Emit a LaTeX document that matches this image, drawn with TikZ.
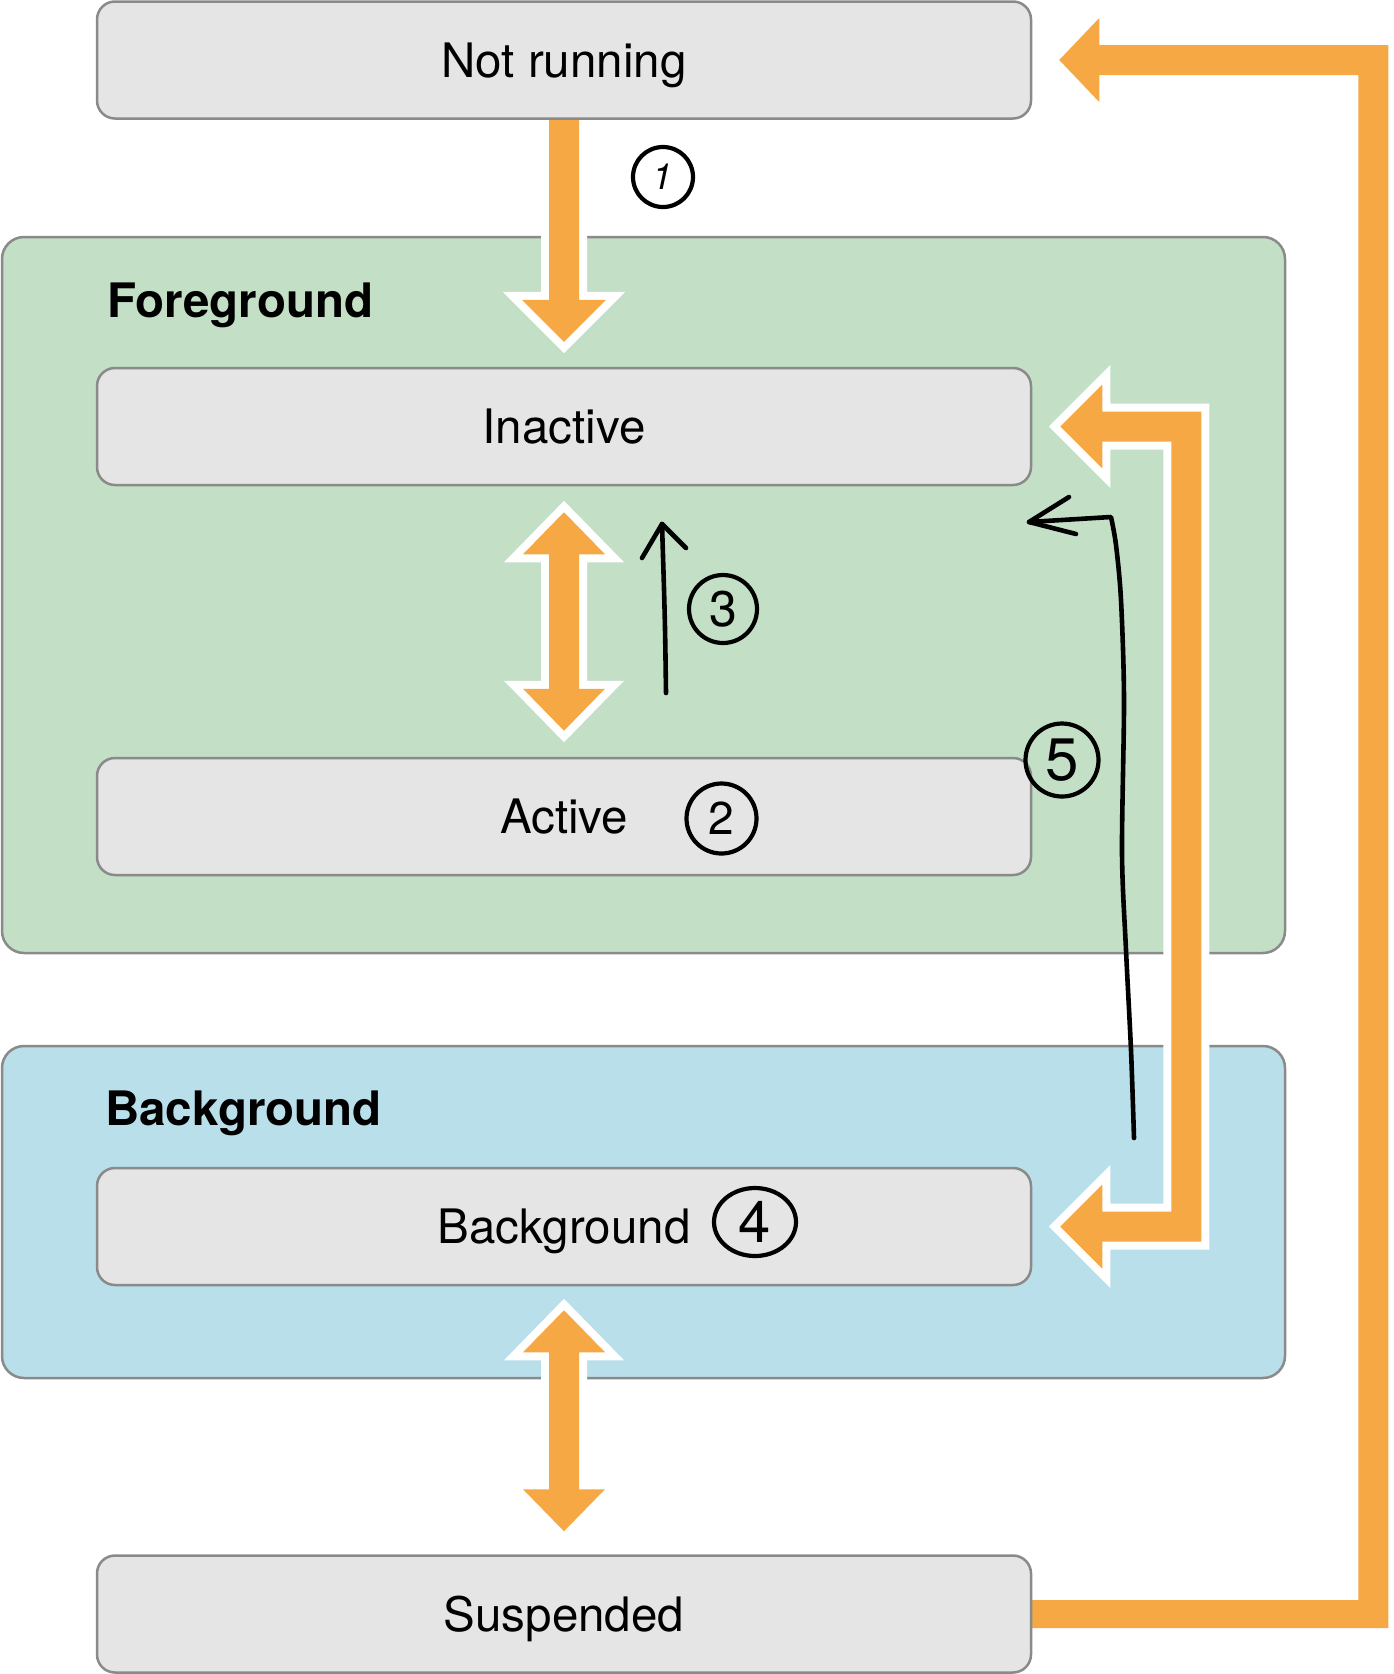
\documentclass[tikz,border=0pt]{standalone}
\usepackage{fontspec}
\setmainfont{TeX Gyre Heros}
\usetikzlibrary{calc,shapes.geometric}
\definecolor{orng}{RGB}{246,168,68}
\definecolor{fgfill}{RGB}{195,224,199}
\definecolor{bgfill}{RGB}{185,223,234}
\definecolor{boxg}{RGB}{229,229,229}
\definecolor{edgeg}{RGB}{138,138,138}
\pgfdeclarelayer{back}
\pgfdeclarelayer{mid}
\pgfsetlayers{back,mid,main}
\newcommand\dblarrow[2]{%
  \path[blockarrow] let \p1=(#1), \p2=(#2) in
    (\x1,\y1) -- (\x1+41pt,\y1-42pt) -- (\x1+15pt,\y1-42pt) -- (\x1+15pt,\y2+42pt)
    -- (\x1+41pt,\y2+42pt) -- (\x2,\y2) -- (\x1-41pt,\y2+42pt) -- (\x1-15pt,\y2+42pt)
    -- (\x1-15pt,\y1-42pt) -- (\x1-41pt,\y1-42pt) -- cycle;}
\begin{document}
\begin{tikzpicture}[x=1pt,y=-1pt,
  state/.style={draw=edgeg, line width=2.5pt, fill=boxg, rounded corners=18pt,
    minimum width=934pt, minimum height=117pt, inner sep=0pt,
    font=\fontsize{47.5}{57}\selectfont, text height=34pt, text depth=0pt},
  group/.style={draw=edgeg, line width=2.5pt, rounded corners=22pt, inner sep=0pt},
  grouplabel/.style={anchor=base west, inner sep=0pt, font=\bfseries\fontsize{47.5}{57}\selectfont},
  blockarrow/.style={fill=orng, line join=miter,
    preaction={draw=white, line width=16pt, line join=miter}},
  ink/.style={draw=black, line width=4.6pt, line cap=round, line join=round},
  handcircle/.style={circle, draw=black, line width=4.2pt, inner sep=0pt},
]
\useasboundingbox (0,0) rectangle (1394,1674);

% state boxes
\node[state] (notrun)    at (564,60)     {Not running};
\node[state] (inactive)  at (564,426.5)  {Inactive};
\node[state] (active)    at (564,816.5)  {Active};
\node[state] (bgbox)     at (564,1226.5) {Background};
\node[state] (suspended) at (564,1614)   {Suspended};

% groups
\begin{pgfonlayer}{back}
\node[group, fill=fgfill, minimum width=1283pt, minimum height=716pt] (fggroup) at (643.5,595) {};
\node[group, fill=bgfill, minimum width=1283pt, minimum height=332pt] (bggroup) at (643.5,1212) {};
\node[grouplabel] (fglabel) at (107,317) {Foreground};
\node[grouplabel] (bglabel) at (105,1125) {Background};
\end{pgfonlayer}

% orange block arrows
\coordinate (a1s) at ($(notrun.south)+(0,-6)$);
\coordinate (a1t) at ($(inactive.north)+(0,-25)$);
\coordinate (dAt) at ($(inactive.south)+(0,26)$);
\coordinate (dAb) at ($(active.north)+(0,-26)$);
\coordinate (dBt) at ($(bgbox.south)+(0,24)$);
\coordinate (dBb) at ($(suspended.north)+(0,-23)$);
\coordinate (rTt) at ($(inactive.east)+(28,0)$);
\coordinate (rBt) at ($(bgbox.east)+(28,0)$);
\coordinate (lTt) at ($(notrun.east)+(27,0)$);
\coordinate (lS)  at ($(suspended.east)+(-8,0)$);

\begin{pgfonlayer}{mid}
\path[blockarrow] let \p1=(a1s), \p2=(a1t) in
  (\x1-15pt,\y1) -- (\x1-15pt,\y2+42pt) -- (\x1-42pt,\y2+42pt) -- (\x2,\y2)
  -- (\x1+42pt,\y2+42pt) -- (\x1+15pt,\y2+42pt) -- (\x1+15pt,\y1) -- cycle;
\dblarrow{dAt}{dAb}
\dblarrow{dBt}{dBb}
\path[blockarrow] let \p1=(rTt), \p2=(rBt) in
  (\x1,\y1) -- (\x1+42pt,\y1+42pt) -- (\x1+42pt,\y1+15pt) -- (\x1+141pt,\y1+15pt)
  -- (\x1+141pt,\y2-15pt) -- (\x1+42pt,\y2-15pt) -- (\x1+42pt,\y2-42pt) -- (\x2,\y2)
  -- (\x1+42pt,\y2+42pt) -- (\x1+42pt,\y2+15pt) -- (\x1+111pt,\y2+15pt)
  -- (\x1+111pt,\y1-15pt) -- (\x1+42pt,\y1-15pt) -- (\x1+42pt,\y1-42pt) -- cycle;
\path[blockarrow] let \p1=(lTt), \p2=(lS) in
  (\x1,\y1) -- (\x1+40pt,\y1+42pt) -- (\x1+40pt,\y1+15pt) -- (\x1+329pt,\y1+15pt)
  -- (\x1+329pt,\y2-14pt) -- (\x2,\y2-14pt) -- (\x2,\y2+14pt) -- (\x1+299pt,\y2+14pt)
  -- (\x1+299pt,\y1-15pt) -- (\x1+40pt,\y1-15pt) -- (\x1+40pt,\y1-42pt) -- cycle;
\end{pgfonlayer}

% handwritten annotations
\node[handcircle, minimum size=60pt, font=\itshape\fontsize{36}{36}\selectfont] (c1) at (663,177) {1};
\node[handcircle, minimum size=70pt, font=\fontsize{46}{46}\selectfont] (c2) at (721.5,818.5) {2};
\node[handcircle, minimum size=68pt, font=\fontsize{50}{50}\selectfont] (c3) at (723,609) {3};
\node[ellipse, draw=black, line width=4.2pt, inner sep=0pt, minimum width=82pt, minimum height=68pt,
      font=\fontsize{58}{58}\selectfont] (c4) at (755,1222) {4};
\node[handcircle, minimum size=73pt, font=\fontsize{60}{60}\selectfont] (c5) at (1062,760) {5};

\coordinate (h3s) at (666,693);
\coordinate (h3t) at (662,524);
\draw[ink] (h3s) .. controls (665,620) .. (h3t);
\draw[ink] (642,558) -- (h3t) -- (686,548);

\coordinate (h5s) at (1134,1138);
\coordinate (h5t) at (1029,522);
\draw[ink] plot[smooth, tension=0.5] coordinates {(h5s) (1131,1050) (1126,950) (1122,853) (1124,700) (1121,600) (1116,545) (1111,517)} -- (h5t);
\draw[ink] (1069,497) -- (h5t) -- (1076,534);
\end{tikzpicture}
\end{document}
